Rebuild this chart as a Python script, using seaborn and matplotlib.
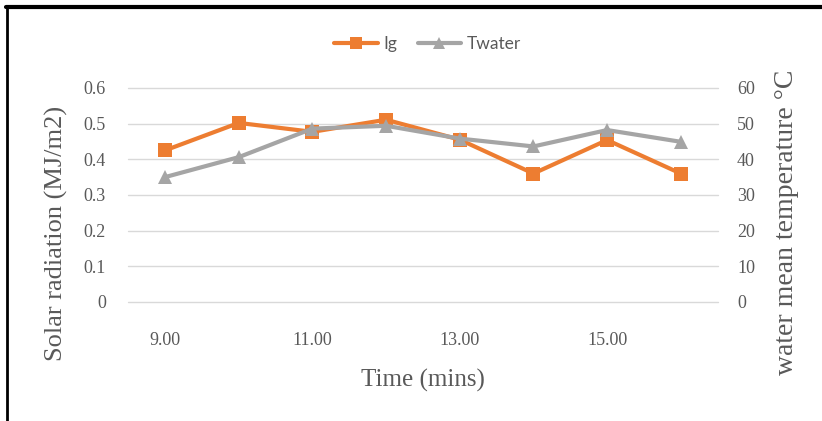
import matplotlib
matplotlib.use("Agg")
import matplotlib.pyplot as plt
import matplotlib.lines as mlines
import seaborn as sns
import pandas as pd
import numpy as np

# data
times = ['9.00', '10.00', '11.00', '12.00', '13.00', '14.00', '15.00', '16.00']
ig = [0.425, 0.502, 0.477, 0.511, 0.455, 0.36, 0.454, 0.36]
twater = [35.0, 40.6, 48.6, 49.4, 45.8, 43.6, 48.2, 44.9]
shown_ticks = ['9.00', '11.00', '13.00', '15.00']

df = pd.DataFrame({'pos': np.arange(len(times)), 'time': times, 'Ig': ig, 'Twater': twater})

sns.set_style('white')
orange = '#ED7D31'
grey = '#A5A5A5'
tick_col = '#595959'
legend_font = ['Lato', 'DejaVu Sans']
serif = ['Liberation Serif', 'DejaVu Serif']

fig = plt.figure(figsize=(8.22, 4.21), dpi=100)
ax = fig.add_axes([0.156, 0.283, 0.717, 0.508])
ax2 = ax.twinx()

ax.yaxis.grid(True, color='#d9d9d9', lw=1)
ax.set_axisbelow(True)

sns.lineplot(data=df, x='pos', y='Ig', ax=ax, color=orange, lw=3,
             marker='s', markersize=10, markeredgewidth=0, zorder=3)
sns.lineplot(data=df, x='pos', y='Twater', ax=ax2, color=grey, lw=3,
             marker='^', markersize=10, markeredgewidth=0, zorder=3)

ax.set_xlim(-0.5, len(times) - 0.5)
ax.set_ylim(0, 0.6)
ax2.set_ylim(0, 60)
ax.set_yticks(np.arange(0, 0.61, 0.1))
ax.set_yticklabels(['0', '0.1', '0.2', '0.3', '0.4', '0.5', '0.6'])
ax2.set_yticks(np.arange(0, 61, 10))
for gl in ax.get_ygridlines():
    gl.set_clip_on(False)

tick_pos = [times.index(t) for t in shown_ticks]
ax.set_xticks(tick_pos)
ax.set_xticklabels(shown_ticks)

for a in (ax, ax2):
    for s in a.spines.values():
        s.set_visible(False)
    a.tick_params(length=0, labelsize=13, labelcolor=tick_col)
    for lab in a.get_xticklabels() + a.get_yticklabels():
        lab.set_family(serif)
ax.tick_params(axis='x', pad=22)
ax.tick_params(axis='y', pad=16)
ax2.tick_params(axis='y', pad=14)

ax.set_xlabel('Time (mins)', family=serif, fontsize=18, color=tick_col, labelpad=14)
ax.set_ylabel('Solar radiation (MJ/m2)', family=serif, fontsize=19, color=tick_col)
ax2.set_ylabel('water mean temperature °C', family=serif, fontsize=20, color=tick_col)
# labels sit lower than the axes centre in the reference
ax.yaxis.set_label_coords(-0.102, 0.32)
ax2.yaxis.set_label_coords(1.095, 0.37)

h1 = mlines.Line2D([], [], color=orange, lw=3, marker='s', markersize=9, markeredgewidth=0)
h2 = mlines.Line2D([], [], color=grey, lw=3, marker='^', markersize=9, markeredgewidth=0)
leg = fig.legend([h1, h2], ['Ig', 'Twater'], loc='center', bbox_to_anchor=(0.52, 0.895),
                 ncol=2, frameon=False, handlelength=2.5, columnspacing=1.2, handletextpad=0.3,
                 prop={'family': legend_font, 'size': 12.5})
for t in leg.get_texts():
    t.set_color(tick_col)

# black frame on top and left edge like the reference screenshot
fig.add_artist(mlines.Line2D([0.007, 1.0], [0.983, 0.983], color='black', lw=3, transform=fig.transFigure))
fig.add_artist(mlines.Line2D([0.008, 0.008], [0.0, 0.983], color='black', lw=2, transform=fig.transFigure))

fig.savefig('out.png', dpi=100)
